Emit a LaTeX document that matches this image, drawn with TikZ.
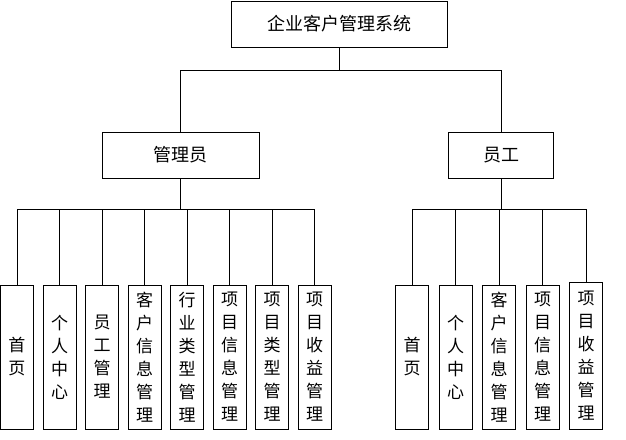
\documentclass[tikz,border=0pt]{standalone}
\usepackage{fontspec}
\setmainfont{Noto Sans CJK SC}
\usetikzlibrary{positioning}

\begin{document}
\begin{tikzpicture}[x=1pt,y=-1pt,node distance=42.5pt,on grid,
    box/.style={draw,line width=0.8pt,inner sep=0pt,align=center},
    top/.style={box,minimum height=46pt,font=\fontsize{18}{20}\selectfont},
    leaf/.style={box,minimum width=33pt,minimum height=144pt,font=\fontsize{17}{23}\selectfont}]

    \useasboundingbox (0,0) rectangle (626,439);

    \node[top,minimum width=216pt] (sys) at (339,24) {企业客户管理系统};
    \node[top,minimum width=157pt] (admin) at (180.5,155) {管理员};
    \node[top,minimum width=105pt] (staff) at (501,155) {员工};

    % admin side
    \node[leaf] (a1) at (17,357) {首\\页};
    \node[leaf] (a2) [right=of a1] {个\\人\\中\\心};
    \node[leaf] (a3) [right=of a2] {员\\工\\管\\理};
    \node[leaf] (a4) [right=of a3] {客\\户\\信\\息\\管\\理};
    \node[leaf] (a5) [right=of a4] {行\\业\\类\\型\\管\\理};
    \node[leaf] (a6) [right=of a5] {项\\目\\信\\息\\管\\理};
    \node[leaf] (a7) [right=of a6] {项\\目\\类\\型\\管\\理};
    \node[leaf] (a8) [right=of a7] {项\\目\\收\\益\\管\\理};

    % staff side
    \node[leaf] (s1) at (412,357) {首\\页};
    \node[leaf] (s2) [right=43.5pt of s1] {个\\人\\中\\心};
    \node[leaf] (s3) [right=43.5pt of s2] {客\\户\\信\\息\\管\\理};
    \node[leaf] (s4) [right=43.5pt of s3] {项\\目\\信\\息\\管\\理};
    \node[leaf,minimum height=147pt] (s5) [right=43.5pt of s4, yshift=1.5pt] {项\\目\\收\\益\\管\\理};

    \draw[line width=0.8pt] (sys.south) -- ++(0,23) -| (admin.north);
    \draw[line width=0.8pt] (sys.south) -- ++(0,23) -| (staff.north);

    \foreach \n in {a1,a2,a3,a4,a5,a6,a7,a8}
      \draw[line width=0.8pt] (admin.south) -- ++(0,31) -| (\n.north);
    \foreach \n in {s1,s2,s3,s4,s5}
      \draw[line width=0.8pt] (staff.south) -- ++(0,31) -| (\n.north);

  \end{tikzpicture}
\end{document}
